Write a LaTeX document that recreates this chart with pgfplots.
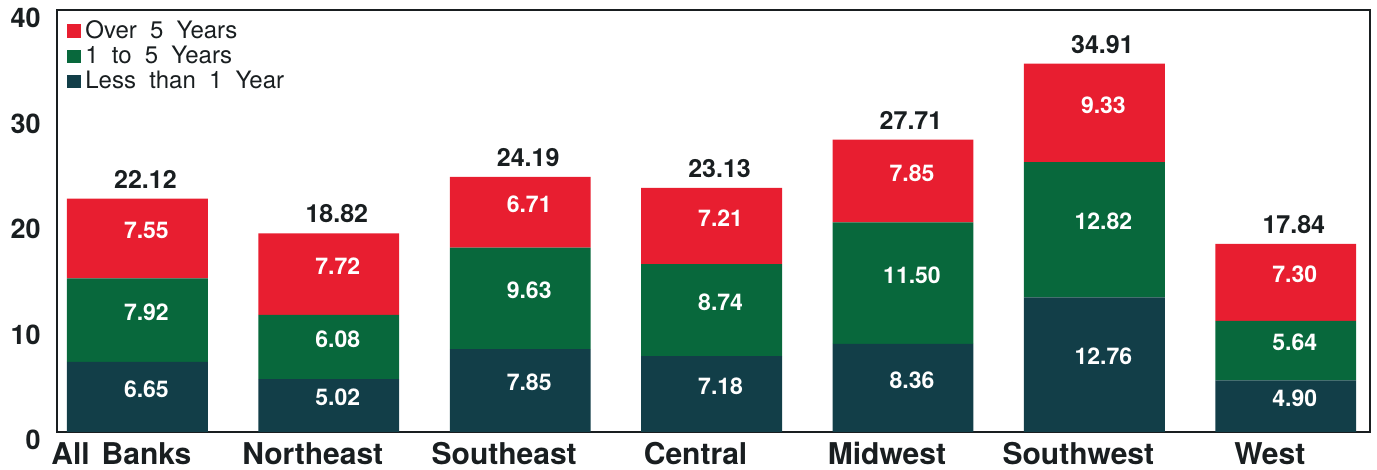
\documentclass[border=0pt]{standalone}
\usepackage{fontspec}
\setmainfont{TeX Gyre Heros}
\usepackage{pgfplots}
\usepackage{pgfplotstable}
\pgfplotsset{compat=1.18}
\definecolor{cred}{RGB}{232,30,48}
\definecolor{cgreen}{RGB}{8,104,60}
\definecolor{cdark}{RGB}{18,62,72}
\definecolor{ctext}{RGB}{25,30,32}
\newcommand\wsp{\hspace{0.55em}}
\pgfplotstableread{
x lt1 a15 o5 tot
0 6.65 7.92 7.55 22.12
1 5.02 6.08 7.72 18.82
2 7.85 9.63 6.71 24.19
3 7.18 8.74 7.21 23.13
4 8.36 11.50 7.85 27.71
5 12.76 12.82 9.33 34.91
6 4.90 5.64 7.30 17.84
}\data
\pgfplotsset{
  common/.style={
    at={(0,0)}, anchor=south west,
    scale only axis, width=656.5pt, height=211pt,
    xmin=-0.42, xmax=6.44, ymin=0, ymax=40,
    enlargelimits=false, clip=false,
    bar width=0.736,
    /pgf/number format/assume math mode=true,
  },
}
\begin{document}
\begin{tikzpicture}
\useasboundingbox (-28.5pt,-19pt) rectangle (660pt,216pt);
\begin{axis}[
  common,
  ybar stacked,
  axis line style={draw=ctext, line width=0.8pt},
  major tick length=0pt,
  xtick=data,
  xticklabels={All\hspace{0.4em}Banks, Northeast, Southeast, Central, Midwest, Southwest, West},
  xticklabel style={font=\fontsize{15}{16}\selectfont\bfseries, text=ctext, inner sep=0pt, anchor=north, xshift=-8pt, yshift=-5pt},
  ytick={0,10,20,30,40},
  yticklabel style={font=\fontsize{13.5}{15}\selectfont\bfseries, text=ctext, inner sep=0pt, anchor=east, xshift=-8pt, yshift=-4pt},
  reverse legend,
  legend style={draw=none, fill=none, at={(0,1)}, anchor=north west, xshift=2pt, yshift=-1pt,
    font=\fontsize{12}{12.5}\selectfont, text=ctext, row sep=-1.6pt},
  legend cell align=left,
  legend image code/.code={\fill[#1] (-0.5pt,-3.4pt) rectangle (6.5pt,3.4pt);},
  seg/.style={draw=none,
    nodes near coords={\pgfmathprintnumber[fixed,fixed zerofill,precision=2]{\pgfplotspointmeta}},
    point meta=explicit,
    every node near coord/.append style={font=\fontsize{11.5}{12}\selectfont\bfseries, text=white, anchor=center, xshift=4.5pt, yshift=4pt}},
]
\addplot[seg, fill=cdark] table[x=x, y=lt1, meta=lt1]{\data};
\addlegendentry{Less\wsp than\wsp 1\wsp Year}
\addplot[seg, fill=cgreen] table[x=x, y=a15, meta=a15]{\data};
\addlegendentry{1\wsp to\wsp 5\wsp Years}
\addplot[seg, fill=cred] table[x=x, y=o5, meta=o5]{\data};
\addlegendentry{Over\wsp 5\wsp Years}
\end{axis}
\begin{axis}[
  common, ybar, hide axis,
]
\addplot[draw=none, fill=none,
  nodes near coords={\pgfmathprintnumber[fixed,fixed zerofill,precision=2]{\pgfplotspointmeta}},
  every node near coord/.append style={font=\fontsize{12.5}{13}\selectfont\bfseries, text=ctext, anchor=south, inner sep=0pt, xshift=4pt, yshift=5pt}]
  table[x=x, y=tot]{\data};
\end{axis}
\end{tikzpicture}
\end{document}
